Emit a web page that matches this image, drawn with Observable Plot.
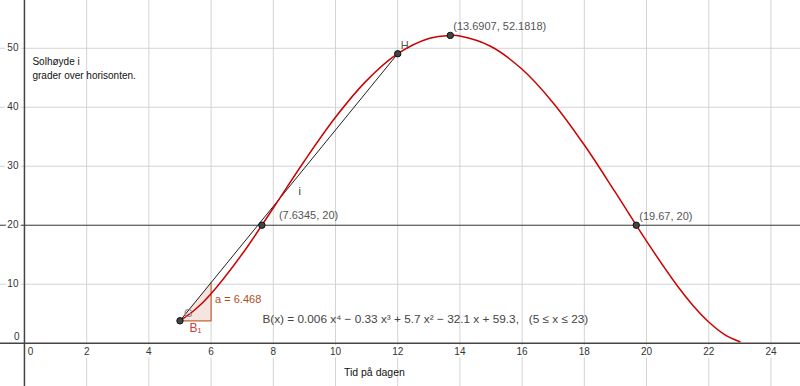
<!DOCTYPE html>
<html>
<head>
<meta charset="utf-8">
<script src="https://cdn.jsdelivr.net/npm/d3@7"></script>
<script src="https://cdn.jsdelivr.net/npm/@observablehq/plot@0.6"></script>
<style>
  html, body { margin: 0; padding: 0; background: #fff; }
  #chart svg { display: block; }
</style>
</head>
<body>
<div id="chart"></div>
<script>
// Tick values
const xTicks = [2, 4, 6, 8, 10, 12, 14, 16, 18, 20, 22, 24];
const yTicks = [10, 20, 30, 40, 50];

// Curve B(x) read along the hours (5..23), plus the maximum
const curveX = [5, 5.5, 6, 7, 8, 9, 10, 11, 12, 13, 13.6907, 14, 15, 16, 17, 18, 19, 20, 21, 21.5, 22, 22.5, 23];
const curveY = [3.8, 5.761, 8.396, 15.116, 22.916, 30.896, 38.3, 44.516, 49.076, 51.656, 52.1818, 52.076, 50.3, 46.436, 40.736, 33.596, 25.556, 17.3, 9.656, 6.361, 3.596, 1.503, 0.236];

// Named points
const pointNames = ["G", "A", "H", "M", "C"];
const pointX = [5, 7.6345, 12, 13.6907, 19.67];
const pointY = [3.8, 20, 49.076, 52.1818, 20];
const pointLabels = ["G", "(7.6345, 20)", "H", "(13.6907, 52.1818)", "(19.67, 20)"];

// Slope triangle
const slopeA = 6.468;
const horizonLevel = 20;

const curve = curveX.map((x, i) => ({x, y: curveY[i]}));
const pts = pointX.map((x, i) => ({name: pointNames[i], x, y: pointY[i], label: pointLabels[i]}));
const G = pts[0], H = pts[2];
const tri = [{x: G.x, y1: G.y, y2: G.y}, {x: G.x + 1, y1: G.y, y2: G.y + slopeA}];
const triEdge = [{x: G.x, y: G.y}, {x: G.x + 1, y: G.y}, {x: G.x + 1, y: G.y + slopeA}];

const font = "Liberation Sans, Arial, sans-serif";
const labelOffsets = {
  G: {dx: 4, dy: -7, fill: "#888"},
  A: {dx: 17, dy: -10, fill: "#555"},
  H: {dx: 3, dy: -8, fill: "#555"},
  M: {dx: 3, dy: -9, fill: "#555"},
  C: {dx: 3, dy: -9, fill: "#555"}
};

const pointLabelMarks = pts.map(p => Plot.text([p], {
  x: "x", y: "y", text: "label", textAnchor: "start", fontSize: 11, fill: labelOffsets[p.name].fill,
  dx: labelOffsets[p.name].dx, dy: labelOffsets[p.name].dy
}));

const chart = Plot.plot({
  width: 800,
  height: 386,
  margin: 0,
  style: {fontFamily: font, background: "#fff"},
  x: {domain: [-0.77, 24.95], axis: null},
  y: {domain: [-7.34, 58.1], axis: null},
  marks: [
    Plot.ruleX(xTicks, {stroke: "#d3d3d3", strokeWidth: 1}),
    Plot.ruleY(yTicks, {stroke: "#d3d3d3", strokeWidth: 1}),
    Plot.ruleX([0], {stroke: "#444", strokeWidth: 1.5}),
    Plot.ruleY([0], {stroke: "#444", strokeWidth: 1.5}),
    Plot.ruleY([horizonLevel], {stroke: "#444", strokeWidth: 1.2}),
    // x tick labels
    Plot.text(xTicks, {x: d => d, y: 0, dy: 9, text: d => String(d), fontSize: 10, fill: "#333",
      stroke: "white", strokeWidth: 5, paintOrder: "stroke"}),
    Plot.text([0], {x: 0, y: 0, dx: 6, dy: 9, text: d => String(d), fontSize: 10, fill: "#333"}),
    // y tick labels
    Plot.text(yTicks, {x: 0, y: d => d, dx: -6, textAnchor: "end", text: d => String(d), fontSize: 10, fill: "#333",
      stroke: "white", strokeWidth: 5, paintOrder: "stroke"}),
    Plot.text([0], {x: 0, y: 0, dx: -5, dy: -6, textAnchor: "end", text: d => String(d), fontSize: 10, fill: "#333"}),
    // slope triangle
    Plot.areaY(tri, {x: "x", y1: "y1", y2: "y2", fill: "#f4e2da", fillOpacity: 0.9}),
    Plot.line(triEdge, {x: "x", y: "y", stroke: "#c06030", strokeWidth: 1.2}),
    // secant line i
    Plot.line([G, H], {x: "x", y: "y", stroke: "#222", strokeWidth: 1}),
    // curve
    Plot.line(curve, {x: "x", y: "y", curve: "catmull-rom", stroke: "#cc0000", strokeWidth: 1.5}),
    // points
    Plot.dot(pts, {x: "x", y: "y", r: 3.2, fill: "#444", stroke: "#111", strokeWidth: 1}),
    ...pointLabelMarks,
    // labels
    Plot.text(["a = 6.468"], {x: G.x + 1, y: G.y + slopeA / 2, dx: 4, dy: -2, textAnchor: "start", fontSize: 11, fill: "#b0501e", text: d => d}),
    Plot.text(["B₁"], {x: G.x + 0.5, y: G.y, dy: 7, fontSize: 12, fill: "#c84040", text: d => d}),
    Plot.text(["i"], {x: 8.85, y: 25.7, fontSize: 11, fill: "#333", text: d => d}),
    Plot.text(["B(x) = 0.006 x⁴ − 0.33 x³ + 5.7 x² − 32.1 x + 59.3,   (5 ≤ x ≤ 23)"],
      {x: 7.65, y: 4.0, textAnchor: "start", fontSize: 11.8, fill: "#444", text: d => d}),
    Plot.text(["Solhøyde i\ngrader over horisonten."], {x: 0, y: 48.8, dx: 8, textAnchor: "start", lineAnchor: "top", lineHeight: 1.4, fontSize: 10, fill: "#111", text: d => d}),
    Plot.text(["Tid på dagen"], {x: 11.25, y: -4.97, fontSize: 10.5, fill: "#111", text: d => d})
  ]
});

document.getElementById("chart").appendChild(chart);
</script>
</body>
</html>
